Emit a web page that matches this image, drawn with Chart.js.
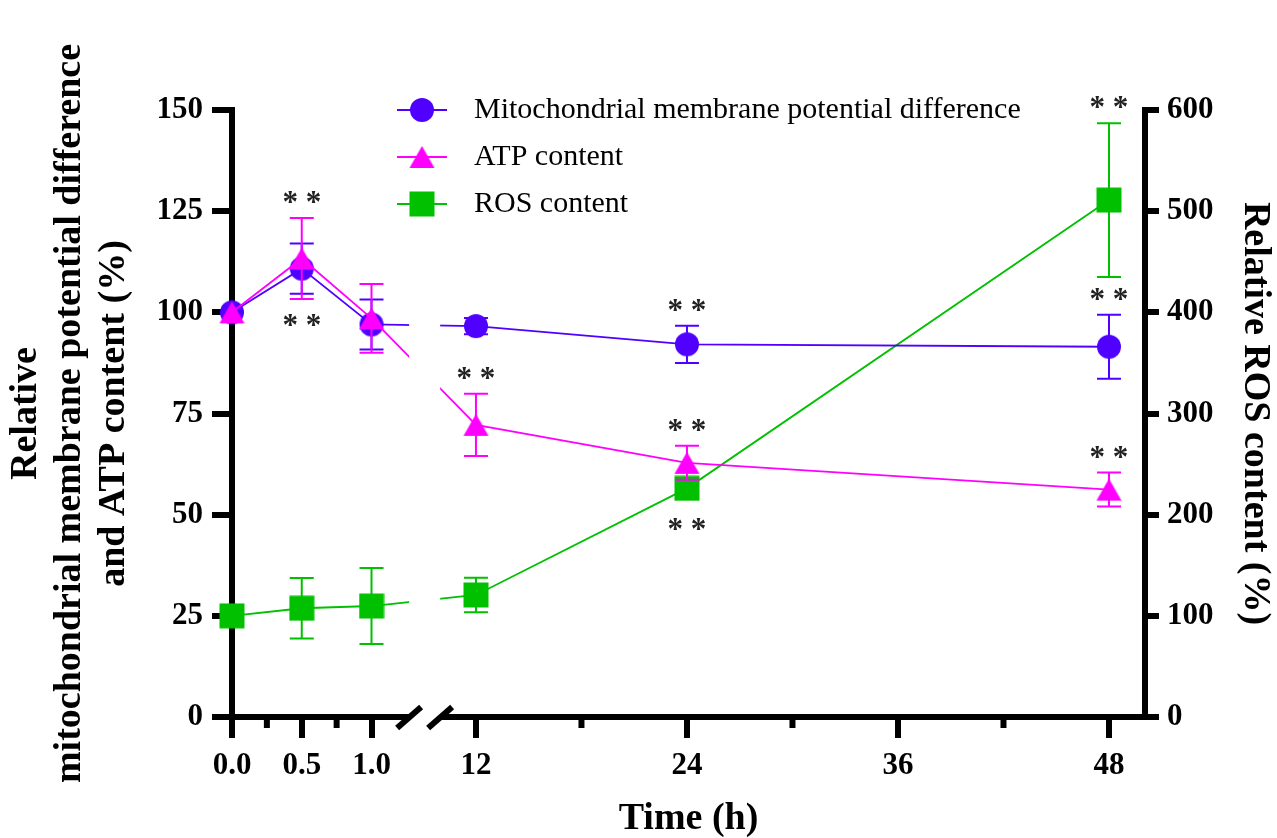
<!DOCTYPE html>
<html>
<head>
<meta charset="utf-8">
<script src="https://cdn.jsdelivr.net/npm/chart.js@4.4.1/dist/chart.umd.min.js"></script>
<style>
  html, body { margin: 0; padding: 0; background: #fff; }
  #wrap { width: 1277px; height: 838px; position: relative; }
</style>
</head>
<body>
<div id="wrap"><canvas id="chart"></canvas></div>
<script>
// sampling times (h)
const timePoints = [0, 0.5, 1, 12, 24, 48];

// relative values (%) and their error bars
const mmpValues = [100, 110.8, 97, 96.6, 92.1, 91.5];
const mmpErrors = [0, 6.2, 6.2, 2, 4.6, 7.9];
const atpValues = [100, 113.3, 98.5, 72.2, 62.8, 56.2];
const atpErrors = [0, 10, 8.5, 7.7, 4.2, 4.2];
const rosValues = [100, 107.5, 109.7, 120.6, 226, 511];
const rosErrors = [0, 30, 37.5, 17, 10, 76];

const xTickTimes = [0, 0.5, 1, 12, 24, 36, 48];
const xTickLabels = ['0.0', '0.5', '1.0', '12', '24', '36', '48'];
const xMinorTimes = [0.25, 0.75, 18, 30, 42];

// ** marks: time, series, side of the error bar
const sigTimes = [0.5, 0.5, 12, 24, 24, 24, 48, 48, 48];
const sigSeries = ['atp', 'mmp', 'atp', 'mmp', 'atp', 'ros', 'ros', 'mmp', 'atp'];
const sigSides = ['above', 'below', 'above', 'above', 'above', 'below', 'above', 'above', 'above'];

const COLORS = { mmp: '#5000ff', atp: '#ff00ff', ros: '#00c000', text: '#000', star: '#222' };
const SERIF = "'Liberation Serif', 'Times New Roman', serif";

// broken x axis: 0-1 h on the left piece, 12-48 h on the right one (axis runs 0..100)
const LEFT_PER_H = 15.28;
const RIGHT_AT_12 = 26.72;
const RIGHT_PER_H = 1.926;
const GAP_FROM = 19.4;
const GAP_TO = 22.8;
function axisPos(t) {
    return t <= 6 ? t * LEFT_PER_H : RIGHT_AT_12 + (t - 12) * RIGHT_PER_H;
}

// marker images, centred on their bounding box like the original
function makeMarker(shape, color) {
    const c = document.createElement('canvas');
    if (shape === 'triangle') { c.width = 27; c.height = 24; } else { c.width = 26; c.height = 26; }
    const g = c.getContext('2d');
    g.fillStyle = color;
    g.beginPath();
    if (shape === 'circle') {
        g.arc(13, 13, 12, 0, Math.PI * 2);
    } else if (shape === 'triangle') {
        g.moveTo(13.5, 1); g.lineTo(26, 23); g.lineTo(1, 23); g.closePath();
    } else {
        g.rect(0.5, 0.5, 25, 25);
    }
    g.fill();
    return c;
}
const markers = {
    mmp: makeMarker('circle', COLORS.mmp),
    atp: makeMarker('triangle', COLORS.atp),
    ros: makeMarker('rect', COLORS.ros)
};

function toPoints(values) {
    return timePoints.map((t, i) => ({ x: axisPos(t), y: values[i] }));
}

function series(key, label, values, errors, axis, order) {
    return {
        key, label, errors, order,
        data: toPoints(values),
        yAxisID: axis,
        borderColor: COLORS[key],
        backgroundColor: COLORS[key],
        borderWidth: 1.8,
        pointStyle: markers[key],
        pointRadius: 12,
        pointHoverRadius: 12,
        tension: 0,
        clip: false
    };
}

const datasets = [
    series('mmp', 'Mitochondrial membrane potential difference', mmpValues, mmpErrors, 'y', 1),
    series('atp', 'ATP content', atpValues, atpErrors, 'y', 0),
    series('ros', 'ROS content', rosValues, rosErrors, 'y2', 2)
];

const errorBars = {
    id: 'errorBars',
    beforeDatasetDraw(chart, args) {
        const ds = chart.data.datasets[args.index];
        const yScale = chart.scales[ds.yAxisID];
        const ctx = chart.ctx;
        ctx.save();
        ctx.strokeStyle = ds.borderColor;
        ctx.lineWidth = 2;
        args.meta.data.forEach((pt, i) => {
            const e = ds.errors[i];
            if (!e) return;
            const v = ds.data[i].y;
            const top = yScale.getPixelForValue(v + e);
            const bot = yScale.getPixelForValue(v - e);
            ctx.beginPath();
            ctx.moveTo(pt.x, top); ctx.lineTo(pt.x, bot);
            ctx.moveTo(pt.x - 12, top); ctx.lineTo(pt.x + 12, top);
            ctx.moveTo(pt.x - 12, bot); ctx.lineTo(pt.x + 12, bot);
            ctx.stroke();
        });
        ctx.restore();
    }
};

const decorations = {
    id: 'decorations',
    afterDraw(chart) {
        const ctx = chart.ctx;
        const xs = chart.scales.x;
        const area = chart.chartArea;
        ctx.save();

        // axis break
        const g1 = xs.getPixelForValue(GAP_FROM);
        const g2 = xs.getPixelForValue(GAP_TO);
        ctx.fillStyle = '#fff';
        ctx.fillRect(g1, area.top - 2, g2 - g1, area.bottom - area.top + 7);
        ctx.strokeStyle = '#000';
        ctx.lineWidth = 6;
        [g1, g2].forEach(gx => {
            ctx.beginPath();
            ctx.moveTo(gx - 12, area.bottom + 11);
            ctx.lineTo(gx + 12, area.bottom - 10);
            ctx.stroke();
        });

        // minor ticks
        xMinorTimes.forEach(t => {
            const px = xs.getPixelForValue(axisPos(t));
            ctx.beginPath();
            ctx.moveTo(px, area.bottom);
            ctx.lineTo(px, area.bottom + 11);
            ctx.stroke();
        });

        // legend
        ctx.font = '30px ' + SERIF;
        ctx.textBaseline = 'middle';
        ctx.textAlign = 'left';
        chart.data.datasets.forEach((ds, i) => {
            const y = 110 + i * 47;
            ctx.strokeStyle = ds.borderColor;
            ctx.lineWidth = 1.8;
            ctx.beginPath();
            ctx.moveTo(397, y); ctx.lineTo(447, y);
            ctx.stroke();
            const m = markers[ds.key];
            ctx.drawImage(m, 422 - m.width / 2, y - m.height / 2);
            ctx.fillStyle = COLORS.text;
            ctx.fillText(ds.label, 474, y);
        });

        // significance marks
        ctx.font = 'bold 31px ' + SERIF;
        ctx.textAlign = 'center';
        ctx.textBaseline = 'alphabetic';
        ctx.fillStyle = COLORS.star;
        sigTimes.forEach((t, k) => {
            const ds = chart.data.datasets.find(d => d.key === sigSeries[k]);
            const i = timePoints.indexOf(t);
            const v = ds.data[i].y;
            const e = ds.errors[i];
            const ys = chart.scales[ds.yAxisID];
            const px = xs.getPixelForValue(axisPos(t));
            const cy = sigSides[k] === 'above'
                ? ys.getPixelForValue(v + e) - 21
                : ys.getPixelForValue(v - e) + 26;
            ctx.fillText('* *', px, cy + 15);
        });
        ctx.restore();
    }
};

const tickFont = { family: SERIF, size: 31, weight: 'bold' };
const titleFont = { family: SERIF, size: 38, weight: 'bold', lineHeight: 1.16 };
const axisGrid = (len) => ({
    drawOnChartArea: false, drawTicks: true, tickLength: len,
    tickWidth: 6, tickColor: '#000', lineWidth: 6, color: '#000'
});
const axisBorder = { display: true, width: 6, color: '#000' };

new Chart(document.getElementById('chart'), {
    type: 'line',
    data: { datasets },
    plugins: [errorBars, decorations],
    options: {
        responsive: true,
        maintainAspectRatio: false,
        animation: false,
        events: [],
        layout: { padding: { left: 4, top: 110, right: 0, bottom: 0 } },
        plugins: { legend: { display: false }, tooltip: { enabled: false } },
        scales: {
            x: {
                type: 'linear', min: 0, max: 100,
                afterBuildTicks: s => { s.ticks = xTickTimes.map(t => ({ value: axisPos(t) })); },
                afterFit: s => { s.height = 121; },
                ticks: {
                    autoSkip: false, maxRotation: 0, padding: 9, color: COLORS.text, font: tickFont,
                    callback: (v, i) => xTickLabels[i]
                },
                grid: axisGrid(21),
                border: axisBorder,
                title: {
                    display: true, text: 'Time (h)', color: COLORS.text,
                    font: { family: SERIF, size: 38, weight: 'bold', lineHeight: 1 },
                    padding: { top: 0, bottom: 0 }
                }
            },
            y: {
                type: 'linear', position: 'left', min: 0, max: 150,
                afterFit: s => { s.width = 228; },
                ticks: { stepSize: 25, padding: 9, color: COLORS.text, font: tickFont },
                grid: axisGrid(20),
                border: axisBorder,
                title: {
                    display: true, color: COLORS.text, font: titleFont,
                    text: ['Relative', 'mitochondrial membrane potential difference', 'and ATP content (%)'],
                    padding: { top: 0, bottom: 0 }
                }
            },
            y2: {
                type: 'linear', position: 'right', min: 0, max: 600,
                afterFit: s => { s.width = 132; },
                ticks: { stepSize: 100, padding: 8, color: COLORS.text, font: tickFont },
                grid: axisGrid(14),
                border: axisBorder,
                title: {
                    display: true, color: COLORS.text, font: titleFont,
                    text: 'Relative ROS content (%)',
                    padding: { top: 0, bottom: 0 }
                }
            }
        }
    }
});
</script>
</body>
</html>
